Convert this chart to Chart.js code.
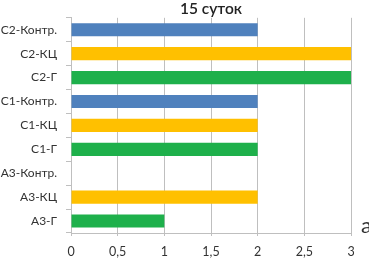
<!DOCTYPE html>
<html>
<head>
<meta charset="utf-8">
<script src="https://cdn.jsdelivr.net/npm/chart.js@4"></script>
<style>
  html, body { margin: 0; padding: 0; background: #fff; }
  #wrap { position: relative; width: 369px; height: 258px; }
  #letter { position: absolute; left: 361px; top: 214px; font: 22px/1 Lato, sans-serif; color: #333; }
</style>
</head>
<body>
<div id="wrap">
  <canvas id="chart" width="369" height="258"></canvas>
  <div id="letter">а</div>
</div>
<script>
// 15 суток - данные
const categories = ['С2-Контр.', 'С2-КЦ', 'С2-Г', 'С1-Контр.', 'С1-КЦ', 'С1-Г', 'А3-Контр.', 'А3-КЦ', 'А3-Г'];
const values = [2, 3, 3, 2, 2, 2, 0, 2, 1];
const barColors = ['#4f81bd', '#ffc000', '#1eb04b', '#4f81bd', '#ffc000', '#1eb04b', '#4f81bd', '#ffc000', '#1eb04b'];
const xTicks = [0, 0.5, 1, 1.5, 2, 2.5, 3];

const ctx = document.getElementById('chart').getContext('2d');
new Chart(ctx, {
  type: 'bar',
  data: {
    labels: categories,
    datasets: [{
      data: values,
      backgroundColor: barColors,
      barPercentage: 0.55,
      categoryPercentage: 1
    }]
  },
  options: {
    indexAxis: 'y',
    responsive: false,
    animation: false,
    layout: { padding: { top: 0, right: 18, left: 0, bottom: 0 } },
    plugins: {
      legend: { display: false },
      tooltip: { enabled: false },
      title: {
        display: true,
        fullSize: false,
        text: '15 суток',
        color: '#222',
        font: { family: 'Lato', size: 15.5, weight: '600', lineHeight: 1.15 },
        padding: { top: 0, bottom: 0 }
      }
    },
    scales: {
      x: {
        min: 0,
        max: 3,
        afterBuildTicks: (axis) => { axis.ticks = xTicks.map(v => ({ value: v })); },
        afterFit: (axis) => { axis.height = 25; },
        ticks: {
          color: '#333',
          font: { family: 'Lato', size: 12.5 },
          padding: 8,
          callback: (v) => String(v).replace('.', ',')
        },
        grid: { color: '#bfbfbf', tickLength: 3 },
        border: { color: '#bfbfbf' }
      },
      y: {
        afterFit: (axis) => { axis.width = 71; },
        ticks: {
          color: '#333',
          font: { family: 'Lato', size: 12 },
          padding: 9
        },
        grid: { offset: true, drawOnChartArea: false, color: '#bfbfbf', tickLength: 5 },
        border: { color: '#bfbfbf' }
      }
    }
  }
});
</script>
</body>
</html>
